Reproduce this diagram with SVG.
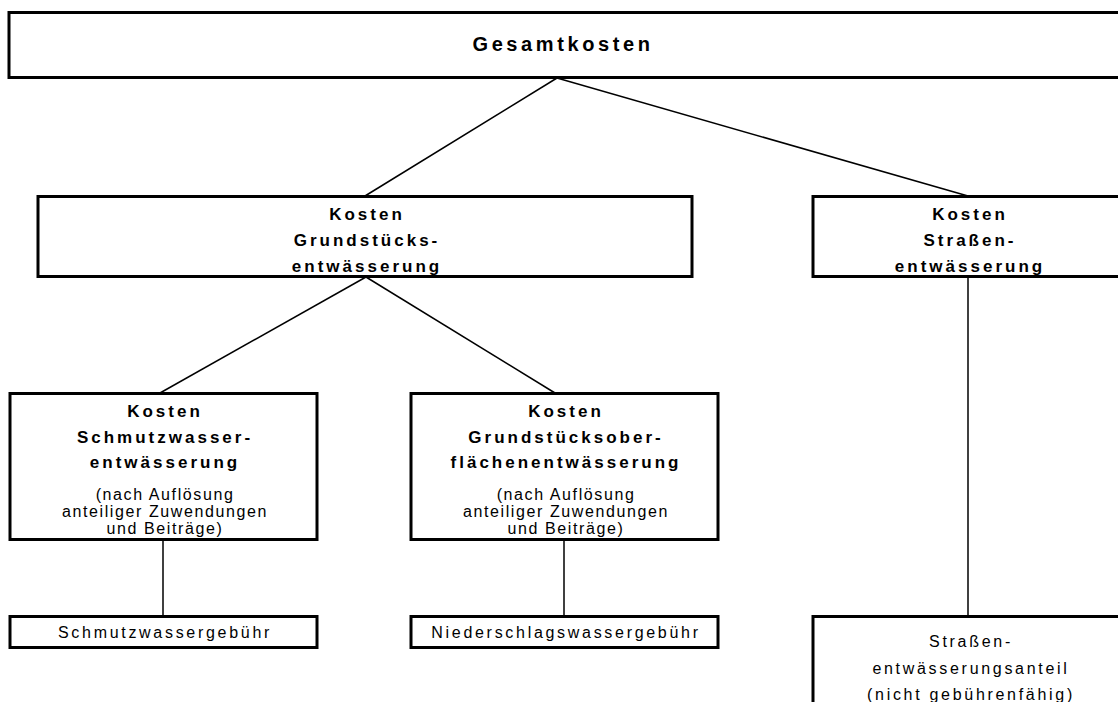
<svg xmlns="http://www.w3.org/2000/svg" width="1118" height="702" viewBox="0 0 1118 702">
<style>
.box{fill:#fff;stroke:#000;stroke-width:3}
.b{font-family:"Liberation Sans",Arial,sans-serif;font-weight:bold;font-size:17px;letter-spacing:3px;text-anchor:middle;fill:#000}
.t{font-family:"Liberation Sans",Arial,sans-serif;font-weight:bold;font-size:20px;letter-spacing:3.6px;text-anchor:middle;fill:#000}
.r{font-family:"Liberation Sans",Arial,sans-serif;font-size:16px;letter-spacing:2.7px;text-anchor:middle;fill:#000}
.s{font-family:"Liberation Sans",Arial,sans-serif;font-size:16px;letter-spacing:1.6px;text-anchor:middle;fill:#000}
.c{stroke:#000;stroke-width:1.5;fill:none}
</style>
<rect width="1118" height="702" fill="#fff"/>
<g id="connectors">
<line class="c" x1="557" y1="78" x2="365" y2="196"/>
<line class="c" x1="557" y1="78" x2="968" y2="196"/>
<line class="c" x1="366" y1="277" x2="160" y2="393"/>
<line class="c" x1="366" y1="277" x2="555" y2="393"/>
<line class="c" x1="968" y1="277" x2="968" y2="615"/>
<line class="c" x1="163" y1="540" x2="163" y2="615"/>
<line class="c" x1="564" y1="540" x2="564" y2="615"/>
</g>
<g id="gesamtkosten">
<rect class="box" x="9" y="12.5" width="1120" height="65"/>
<text class="t" x="563" y="51">Gesamtkosten</text>
</g>
<g id="grundstueck">
<rect class="box" x="38" y="196.5" width="654" height="80"/>
<text class="b" x="367" y="220">Kosten</text>
<text class="b" x="367" y="246">Grundstücks-</text>
<text class="b" x="367" y="272">entwässerung</text>
</g>
<g id="strasse">
<rect class="box" x="813" y="196.5" width="320" height="80"/>
<text class="b" x="970" y="220">Kosten</text>
<text class="b" x="970" y="246">Straßen-</text>
<text class="b" x="970" y="272">entwässerung</text>
</g>
<g id="schmutzwasser">
<rect class="box" x="10" y="393.5" width="307" height="146"/>
<text class="b" x="165" y="417">Kosten</text>
<text class="b" x="165" y="443">Schmutzwasser-</text>
<text class="b" x="165" y="468">entwässerung</text>
<text class="s" x="165" y="500">(nach Auflösung</text>
<text class="s" x="165" y="517">anteiliger Zuwendungen</text>
<text class="s" x="165" y="534">und Beiträge)</text>
</g>
<g id="oberflaeche">
<rect class="box" x="411" y="393.5" width="307" height="146"/>
<text class="b" x="566" y="417">Kosten</text>
<text class="b" x="566" y="443">Grundstücksober-</text>
<text class="b" x="566" y="468">flächenentwässerung</text>
<text class="s" x="566" y="500">(nach Auflösung</text>
<text class="s" x="566" y="517">anteiliger Zuwendungen</text>
<text class="s" x="566" y="534">und Beiträge)</text>
</g>
<g id="schmutzwassergebuehr">
<rect class="box" x="10" y="616.5" width="307" height="31"/>
<text class="r" x="165" y="638">Schmutzwassergebühr</text>
</g>
<g id="niederschlag">
<rect class="box" x="411" y="616.5" width="307" height="31"/>
<text class="r" x="566" y="638">Niederschlagswassergebühr</text>
</g>
<g id="strassenanteil">
<rect class="box" x="813" y="616.5" width="320" height="100"/>
<text class="r" x="971" y="647">Straßen-</text>
<text class="r" x="971" y="674">entwässerungsanteil</text>
<text class="r" x="971" y="700">(nicht gebührenfähig)</text>
</g>
</svg>
